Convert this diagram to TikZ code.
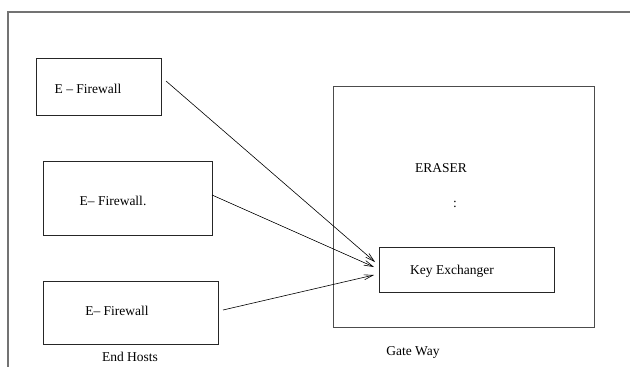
\documentclass[tikz,border=0pt]{standalone}
\usepackage{fontspec}
\setmainfont{Liberation Serif}
\usetikzlibrary{arrows.meta}
\begin{document}
\begin{tikzpicture}[x=1pt,y=-1pt,
  box/.style={draw=black!85,line width=0.8pt,inner sep=0pt},
  lbl/.style={font=\fontsize{13.5}{15}\selectfont,inner sep=0pt},
  conn/.style={line width=0.6pt,-{Straight Barb[length=9pt,width=5pt,line width=0.6pt]}}]
\useasboundingbox (0,0) rectangle (630,367);
% outer frame (top and left only visible)
\draw[black!55,line width=1.2pt] (8,367) -- (8,12) -- (630,12);
% end host boxes
\node[box,minimum width=125pt,minimum height=57pt] (b1) at (98.5,86.5) {};
\node[box,minimum width=169pt,minimum height=74pt] (b2) at (127.5,198) {};
\node[box,minimum width=175pt,minimum height=63pt] (b3) at (130.5,312.5) {};
\node[lbl] (t1) at (88,89) {E – Firewall};
\node[lbl] (t2) at (113,201) {E– Firewall.};
\node[lbl] (t3) at (117,311) {E– Firewall};
\node[lbl] (eh) at (130,357) {End Hosts};
% gateway
\node[box,line width=1pt,draw=black!70,minimum width=261pt,minimum height=241pt] (gw) at (463.5,206.5) {};
\node[lbl] (er) at (441,168) {ERASER};
\node[lbl] (dots) at (455,204) {:};
\node[box,minimum width=175pt,minimum height=45pt] (ke) at (466.5,269.5) {};
\node[lbl] (ket) at (452,271) {Key Exchanger};
\node[lbl] (gwt) at (413,352) {Gate Way};
% connector ends
\coordinate (s1) at (166,81);
\coordinate (s2) at (212,195);
\coordinate (s3) at (223,310);
\coordinate (e1) at (375,262);
\coordinate (e2) at (374,267);
\coordinate (e3) at (374,275);
\draw[conn] (s1) -- (e1);
\draw[conn] (s2) -- (e2);
\draw[conn] (s3) -- (e3);
\end{tikzpicture}
\end{document}
